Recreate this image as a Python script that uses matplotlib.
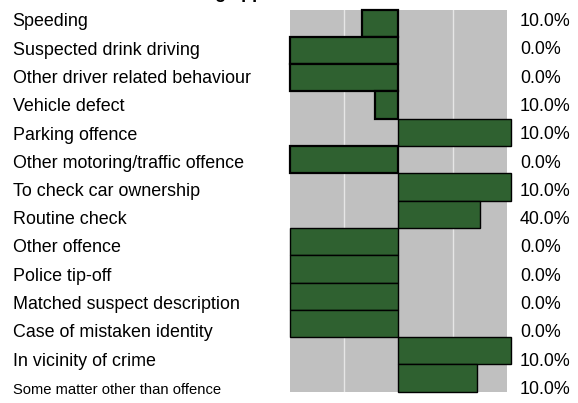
import matplotlib
matplotlib.use("Agg")
from matplotlib import pyplot as plt

# reasons for stop, bar value (negative = drawn to the left) and the % label
reasons = ["Speeding", "Suspected drink driving", "Other driver related behaviour",
           "Vehicle defect", "Parking offence", "Other motoring/traffic offence",
           "To check car ownership", "Routine check", "Other offence",
           "Police tip-off", "Matched suspect description",
           "Case of mistaken identity", "In vicinity of crime",
           "Some matter other than offence"]
values = [-0.34, -1.0, -1.0, -0.22, 1.04, -1.0, 1.04, 0.75,
          -1.0, -1.0, -1.0, -1.0, 1.04, 0.73]
pct = ["10.0%", "0.0%", "0.0%", "10.0%", "10.0%", "0.0%", "10.0%", "40.0%",
       "0.0%", "0.0%", "0.0%", "0.0%", "10.0%", "10.0%"]

plt.rcParams['font.family'] = ['Liberation Sans', 'DejaVu Sans']

W, H = 578, 403
fig = plt.figure(figsize=(W / 100, H / 100), dpi=100)
ax = fig.add_axes([290 / W, (H - 391.7) / H, (506.7 - 290) / W, (391.7 - 9.5) / H])
ax.set_facecolor("#c0c0c0")

ypos = list(range(len(reasons)))
thick = [0, 1, 2, 3, 5]
lws = [1.6 if i in thick else 1.0 for i in ypos]
bars = ax.barh(ypos, values, height=1.0, color="#2f6130", edgecolor="black",
               linewidth=lws, zorder=3)
for b in bars:
    b.set_clip_on(False)

for gx in (-0.5, 0.5):
    ax.axvline(gx, color="#e6e6e6", lw=1.0, zorder=1)

ax.set_xlim(-1, 1)
ax.set_ylim(len(reasons) - 0.5, -0.5)
ax.set_xticks([])
ax.set_yticks([])
for s in ax.spines.values():
    s.set_visible(False)

# row labels on the left and percentages on the right
for i, name in enumerate(reasons):
    size = 10.6 if i == len(reasons) - 1 else 12.9
    base = 26.5 + i * 28.25
    fig.text(12.7 / W, 1 - base / H, name, fontsize=size, va="baseline", ha="left")
    base_r = 26 + i * 28.3
    fig.text(520 / W, 1 - base_r / H, pct[i], fontsize=12.9, va="baseline", ha="left")

# title sits mostly above the canvas, only its descenders show
fig.text(69 / W, 1 + 2 / H, "Reasons for being approached", fontsize=13,
         fontweight="bold", va="baseline", ha="left")

fig.savefig("out.png", dpi=100)
